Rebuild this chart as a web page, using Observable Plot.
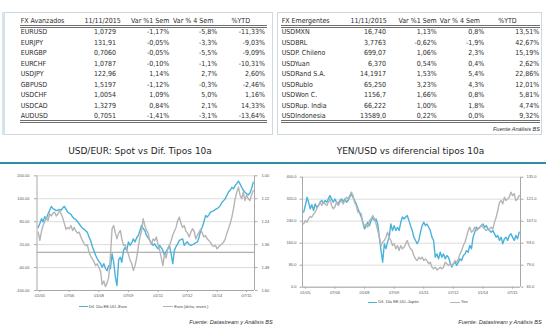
<!DOCTYPE html>
<html>
<head>
<meta charset="utf-8">
<script src="https://cdn.jsdelivr.net/npm/d3@7"></script>
<script src="https://cdn.jsdelivr.net/npm/@observablehq/plot@0.6"></script>
<style>
  html, body { margin: 0; padding: 0; background: #fff; }
  #root { position: relative; width: 550px; height: 330px; overflow: hidden; background: #fff; }
  .t { position: absolute; white-space: nowrap; font-family: "Liberation Sans Narrow", "DejaVu Sans Condensed", "Liberation Sans", sans-serif; font-size: 7px; line-height: 8px; color: #2b2b2b; }
  .r { position: absolute; }
  .title { position: absolute; text-align: center; font-family: "DejaVu Sans", sans-serif; font-size: 9px; line-height: 12px; color: #1e1e1e; }
  .src { position: absolute; white-space: nowrap; font-family: "Liberation Sans", Arial, sans-serif; font-style: italic; font-size: 5.6px; line-height: 7px; color: #333; }
  .lg { position: absolute; white-space: nowrap; font-family: "Liberation Sans", Arial, sans-serif; font-size: 4px; line-height: 6px; color: #444; }
  .chart { position: absolute; }
</style>
</head>
<body>
<div id="root"></div>
<script>
// ---------------- Table data ----------------
const advHeaders = ["FX Avanzados", "11/11/2015", "Var %1 Sem", "Var % 4 Sem", "%YTD"];
const advPairs = ["EURUSD", "EURJPY", "EURGBP", "EURCHF", "USDJPY", "GBPUSD", "USDCHF", "USDCAD", "AUDUSD"];
const advSpot = ["1,0729", "131,91", "0,7060", "1,0787", "122,96", "1,5197", "1,0054", "1,3279", "0,7051"];
const adv1w = ["-1,17%", "-0,05%", "-0,05%", "-0,10%", "1,14%", "-1,12%", "1,09%", "0,84%", "-1,41%"];
const adv4w = ["-5,8%", "-3,3%", "-5,5%", "-1,1%", "2,7%", "-0,3%", "5,0%", "2,1%", "-3,1%"];
const advYtd = ["-11,33%", "-9,03%", "-9,09%", "-10,31%", "2,60%", "-2,46%", "1,16%", "14,33%", "-13,64%"];

const emHeaders = ["FX Emergentes", "11/11/2015", "Var %1 Sem", "Var % 4 Sem", "%YTD"];
const emPairs = ["USDMXN", "USDBRL", "USDP. Chileno", "USDYuan", "USDRand S.A.", "USDRublo", "USDWon C.", "USDRup. India", "USDIndonesia"];
const emSpot = ["16,740", "3,7763", "699,07", "6,370", "14,1917", "65,250", "1156,7", "66,222", "13589,0"];
const em1w = ["1,13%", "-0,62%", "1,06%", "0,54%", "1,53%", "3,23%", "1,66%", "1,00%", "0,22%"];
const em4w = ["0,8%", "-1,9%", "2,3%", "0,4%", "5,4%", "4,3%", "0,8%", "1,8%", "0,0%"];
const emYtd = ["13,51%", "42,67%", "15,19%", "2,62%", "22,86%", "12,01%", "5,81%", "4,74%", "9,32%"];

const tableSource = "Fuente Análisis BS";

// ---------------- Chart data (monthly, first month Dec 2004) ----------------
const firstMonth = "2004-12";
const xTickLabels = ["01/05", "07/06", "01/08", "07/09", "01/11", "07/12", "01/14", "07/15"];

const chart1Title = "USD/EUR: Spot vs Dif. Tipos 10a";
const chart1Series = ["Dif. 10a EE.UU.-Euro", "Euro (dcha. invert.)"];
const eurLeftTicks = [-100, -40, 20, 80, 140, 200];
const eurRightTicks = [1.60, 1.48, 1.36, 1.24, 1.12, 1.00];
// Dif. 10a EE.UU.-Euro (pb)
const diffUsEur = [
  65, 75, 88, 79, 93, 88, 100, 109, 120, 114, 112, 109, 110, 112, 110, 116, 120, 113, 105, 102,
  99, 92, 88, 85, 80, 74, 68, 63, 60, 56, 52, 40, 30, 15, 4, -8, -17, -24, -30, -39,
  -30, -42, -48, -35, -43, -4, -26, -65, -87, -20, -13, -26, 5, 13, 5, 27, 18, 25, 35, 27,
  38, 44, 57, 70, 62, 57, 44, 38, 31, 25, 18, 22, 15, 9, 18, 12, 5, -8, 2, 9,
  18, -4, -30, 5, 15, 22, 31, 33, 35, 18, 24, 27, 20, 18, 20, 22, 25, 27, 40, 57,
  66, 79, 96, 92, 98, 105, 107, 109, 112, 114, 118, 122, 131, 135, 140, 149, 158, 162, 170, 166,
  175, 180, 186, 179, 170, 162, 157, 153, 150, 155, 166, 183
];
// EUR/USD (right axis, inverted)
const eurUsd = [
  1.295, 1.338, 1.29, 1.26, 1.24, 1.22, 1.234, 1.20, 1.21, 1.195, 1.19, 1.21, 1.20, 1.18, 1.20, 1.22, 1.25, 1.28, 1.27, 1.277,
  1.26, 1.286, 1.27, 1.29, 1.30, 1.295, 1.32, 1.338, 1.356, 1.365, 1.36, 1.40, 1.42, 1.434, 1.45, 1.47, 1.46, 1.48, 1.50, 1.57,
  1.55, 1.58, 1.56, 1.53, 1.42, 1.277, 1.26, 1.30, 1.33, 1.30, 1.286, 1.33, 1.364, 1.36, 1.39, 1.41, 1.44, 1.46, 1.495, 1.47,
  1.43, 1.37, 1.32, 1.29, 1.225, 1.26, 1.286, 1.30, 1.338, 1.36, 1.33, 1.34, 1.32, 1.36, 1.39, 1.425, 1.47, 1.41, 1.43, 1.38,
  1.364, 1.34, 1.31, 1.29, 1.27, 1.234, 1.216, 1.25, 1.27, 1.26, 1.29, 1.30, 1.32, 1.295, 1.277, 1.29, 1.33, 1.31, 1.295, 1.28,
  1.30, 1.32, 1.312, 1.33, 1.338, 1.35, 1.364, 1.37, 1.364, 1.382, 1.37, 1.364, 1.355, 1.347, 1.33, 1.30, 1.275, 1.25, 1.216, 1.173,
  1.12, 1.085, 1.06, 1.10, 1.12, 1.085, 1.13, 1.10, 1.12, 1.13, 1.10, 1.077
];

const chart2Title = "YEN/USD vs diferencial tipos 10a";
const chart2Series = ["Dif. 10a EE.UU.-Japón", "Yen"];
const jpyLeftTicks = [0, 80, 160, 240, 320, 400];
const jpyRightTicks = [65, 79, 93, 107, 121, 135];
// Dif. 10a EE.UU.-Japón (pb)
const diffUsJpn = [
  273, 297, 327, 309, 285, 300, 279, 303, 290, 297, 310, 315, 305, 315, 309, 321, 333, 321, 309, 320,
  309, 303, 315, 321, 309, 321, 309, 315, 327, 339, 327, 315, 303, 285, 270, 255, 236, 212, 224, 236,
  224, 242, 255, 242, 248, 230, 180, 133, 91, 158, 140, 164, 182, 230, 206, 224, 206, 218, 206, 236,
  255, 248, 255, 261, 242, 224, 206, 182, 170, 158, 170, 200, 224, 236, 224, 230, 218, 206, 182, 170,
  109, 121, 103, 127, 109, 121, 103, 115, 109, 91, 73, 85, 91, 79, 91, 103, 97, 115, 121, 133,
  127, 152, 140, 182, 200, 218, 212, 218, 224, 230, 218, 224, 212, 206, 200, 206, 194, 182, 188, 170,
  182, 158, 176, 182, 170, 188, 194, 182, 170, 188, 176, 200
];
// USD/JPY (right axis)
const usdJpy = [
  105.3, 107.4, 106.3, 108.5, 110, 109.5, 111.6, 112.7, 114.9, 117, 119, 117, 119, 118, 117, 119, 121.2, 117, 114.9, 116,
  119, 117, 119, 120.2, 118, 120.2, 122.3, 121.2, 123.3, 125.5, 123.3, 119, 117, 112.7, 112.7, 111.6, 105.3, 104.2, 105.3, 103.2,
  107.4, 108.5, 110.6, 108.5, 105.3, 101, 96.8, 91.5, 93.6, 94.7, 96.8, 100, 96.8, 94.7, 91.5, 92.6, 89.4, 91.5, 88.3, 91.5,
  89.4, 90.4, 92.6, 94.7, 91.5, 89.4, 88.3, 85.2, 83, 82, 84.1, 83, 84.1, 82, 83, 81.9, 79.9, 80.9, 77.7, 76.7,
  77.7, 76, 76.7, 77.7, 76.7, 77.7, 80.9, 79.9, 78.8, 79.9, 78.8, 79.9, 81.9, 80.9, 83, 86.2, 88.3, 91.5, 93.6, 96.8,
  101, 103.2, 100, 101, 103.2, 101, 102, 103.2, 104.2, 103.2, 102, 101, 102, 102, 103.2, 102, 106.4, 109.5, 113.8, 119,
  120.2, 118, 122.3, 120.2, 121.2, 122.3, 125.5, 123.3, 124.4, 120.2, 121.2, 123.3
];
const chartSource = "Fuente: Datastream y Análisis BS";

// ---------------- Helpers ----------------
const root = document.getElementById("root");
function el(cls, html, css) {
  const d = document.createElement("div");
  d.className = cls;
  if (html != null) d.textContent = html;
  Object.assign(d.style, css);
  root.appendChild(d);
  return d;
}
function rule(left, top, width, height, color) {
  el("r", null, {left: left + "px", top: top + "px", width: width + "px", height: height + "px", background: color});
}

// ---------------- Tables ----------------
function buildTable(box, labelX, headRights, colRights, headers, cols, lineL, lineW) {
  // box
  el("r", null, {left: box[0] + "px", top: box[1] + "px", width: box[2] + "px", height: box[3] + "px",
    border: "1px solid #cfd8de", boxSizing: "border-box"});
  const headY = 20.7, rowY0 = 32.3, rowH = 10.5;
  // header
  el("t", headers[0], {left: labelX + "px", top: (headY - 4) + "px"});
  for (let j = 1; j < headers.length; j++) {
    el("t", headers[j], {right: (550 - headRights[j - 1]) + "px", top: (headY - 4) + "px"});
  }
  rule(lineL, 25.3, lineW, 0.9, "#6e6e6e");
  rule(lineL, 26.9, lineW, 0.9, "#6e6e6e");
  const n = cols[0].length;
  for (let i = 0; i < n; i++) {
    const y = rowY0 + i * rowH - 4;
    el("t", cols[0][i], {left: labelX + "px", top: y + "px"});
    for (let j = 1; j < cols.length; j++) {
      el("t", cols[j][i], {right: (550 - colRights[j - 1]) + "px", top: y + "px"});
    }
  }
  rule(lineL, 120.0, lineW, 0.9, "#6e6e6e");
  rule(lineL, 121.6, lineW, 0.9, "#6e6e6e");
}

buildTable([3, 12, 270, 123], 20.7, [120.7, 169.3, 213.3, 250], [116, 169.3, 217.3, 265],
  advHeaders, [advPairs, advSpot, adv1w, adv4w, advYtd], 20, 247);
rule(2, 12, 3, 123, "#d4e3ec");
buildTable([277, 12, 265, 123], 281.7, [386.7, 436.7, 480, 516.7], [386, 436.7, 484.3, 539.3],
  emHeaders, [emPairs, emSpot, em1w, em4w, emYtd], 281, 259);
el("src", tableSource, {right: (550 - 540) + "px", top: "125.5px"});

// ---------------- Titles ----------------
el("title", chart1Title, {left: "0px", width: "280px", top: "144.5px"});
el("title", chart2Title, {left: "275px", width: "271px", top: "144.5px"});
rule(0, 161.5, 546, 2, "#2e8ea5");

// ---------------- Charts ----------------
const parseM = d3.utcParse("%Y-%m");
const parseTick = d3.utcParse("%m/%y");
const m0 = parseM(firstMonth);
const dates = diffUsEur.map((_, i) => d3.utcMonth.offset(m0, i));
const xTicks = xTickLabels.map(parseTick);
const xDomain = [new Date(Date.UTC(2004, 10, 9)), new Date(Date.UTC(2015, 10, 25))];
const fmtX = d3.utcFormat("%m/%y");

const rows1 = dates.map((d, i) => ({date: d, diff: diffUsEur[i], eur: eurUsd[i]}));
const rows2 = dates.map((d, i) => ({date: d, diff: diffUsJpn[i], yen: usdJpy[i]}));

// right-axis value -> left-scale units
const eurToLeft = v => 200 - (v - 1.00) / 0.60 * 300;
const yenToLeft = v => (v - 65) / 70 * 400;

const blue = "#4ab2da", grey = "#b5b5b5", axisC = "#a8a8a8", gridC = "#dcdcdc";
const baseStyle = {fontFamily: "Liberation Sans, Arial, sans-serif", fontSize: "4px", color: "#555", background: "transparent", overflow: "visible"};

const c1 = Plot.plot({
  width: 275, height: 140,
  marginLeft: 36.5, marginRight: 21, marginTop: 10.3, marginBottom: 15,
  x: {type: "utc", domain: xDomain},
  y: {domain: [-100, 200]},
  style: baseStyle,
  marks: [
    Plot.gridY(eurLeftTicks, {stroke: gridC, strokeOpacity: 1}),
    Plot.ruleY([0], {stroke: "#8e8e8e", strokeWidth: 0.9}),
    Plot.ruleY([-100], {stroke: axisC}),
    Plot.ruleX(xDomain, {stroke: axisC}),
    Plot.axisY({ticks: eurLeftTicks, tickFormat: d => d.toFixed(2), tickSize: 2.5, tickPadding: 5, label: null, stroke: axisC}),
    Plot.axisY({anchor: "right", ticks: eurRightTicks.map(eurToLeft), tickFormat: d => ((200 - d) / 300 * 0.60 + 1).toFixed(2), tickSize: 2.5, tickPadding: 4.5, label: null, stroke: axisC}),
    Plot.axisX({ticks: xTicks, tickFormat: fmtX, tickSize: 2, tickPadding: 1.5, label: null, stroke: axisC}),
    Plot.lineY(rows1, {x: "date", y: "diff", stroke: blue, strokeWidth: 1.4, clip: true}),
    Plot.lineY(rows1, {x: "date", y: d => eurToLeft(d.eur), stroke: grey, strokeWidth: 1.4, clip: true})
  ]
});
const w1 = el("chart", null, {left: "0px", top: "165px"});
w1.appendChild(c1);

const c2 = Plot.plot({
  width: 275, height: 140,
  marginLeft: 27, marginRight: 30, marginTop: 11.7, marginBottom: 18.3,
  x: {type: "utc", domain: xDomain},
  y: {domain: [0, 400]},
  style: baseStyle,
  marks: [
    Plot.gridY(jpyLeftTicks, {stroke: gridC, strokeOpacity: 1}),
    Plot.ruleY([0], {stroke: axisC}),
    Plot.ruleX(xDomain, {stroke: axisC}),
    Plot.axisY({ticks: jpyLeftTicks, tickFormat: d => d.toFixed(1), tickSize: 2.5, tickPadding: 3.5, label: null, stroke: axisC}),
    Plot.axisY({anchor: "right", ticks: jpyRightTicks.map(yenToLeft), tickFormat: d => (d / 400 * 70 + 65).toFixed(1), tickSize: 2.5, tickPadding: 3.5, label: null, stroke: axisC}),
    Plot.axisX({ticks: xTicks, tickFormat: fmtX, tickSize: 2, tickPadding: 1.5, label: null, stroke: axisC}),
    Plot.lineY(rows2, {x: "date", y: "diff", stroke: blue, strokeWidth: 1.4, clip: true}),
    Plot.lineY(rows2, {x: "date", y: d => yenToLeft(d.yen), stroke: grey, strokeWidth: 1.4, clip: true})
  ]
});
const w2 = el("chart", null, {left: "275px", top: "165px"});
w2.appendChild(c2);

// ---------------- Legends ----------------
function legendItem(x, y, len, color, label) {
  rule(x, y - 0.75, len, 1.5, color);
  el("lg", label, {left: (x + len + 1) + "px", top: (y - 3) + "px"});
}
legendItem(78.7, 306.7, 9, blue, chart1Series[0]);
legendItem(163.3, 306.7, 10, grey, chart1Series[1]);
legendItem(368.3, 302.3, 9, blue, chart2Series[0]);
legendItem(450, 302.3, 10, grey, chart2Series[1]);

// ---------------- Sources ----------------
el("src", chartSource, {right: (550 - 272.7) + "px", top: "319.2px"});
el("src", chartSource, {right: (550 - 541.7) + "px", top: "319.2px"});
</script>
</body>
</html>
